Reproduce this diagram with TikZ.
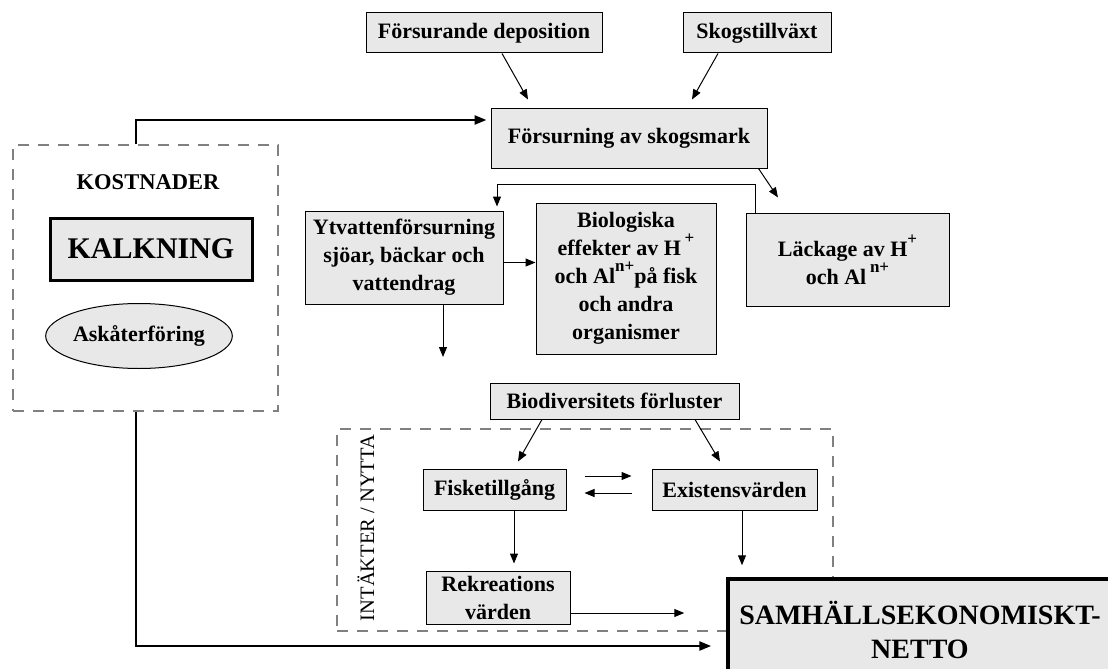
\documentclass[tikz,border=0pt]{standalone}
\usepackage{fontspec}
\setmainfont{Liberation Serif}
\usepackage{xcolor}
\usepackage{tikz}
\usetikzlibrary{positioning,calc,arrows.meta,shapes.geometric}

\definecolor{rutgra}{RGB}{232,232,232}
\definecolor{streckgra}{RGB}{128,128,128}
\newcommand{\upp}[1]{\raisebox{0.55em}{\fontsize{17}{17}\selectfont #1}}

\begin{document}
\begin{tikzpicture}[x=1pt,y=-1pt,
	ruta/.style={draw=black,fill=rutgra,line width=1pt,inner sep=0pt,align=center,font=\bfseries\fontsize{22}{28}\selectfont},
	pil/.style={line width=1pt,-{Triangle[length=10pt,width=8pt]}},
	tjock/.style={line width=2.5pt,-{Triangle[length=12pt,width=9pt]}},
	streck/.style={draw=streckgra,line width=1.2pt,dash pattern=on 11pt off 9pt}]
			\useasboundingbox (0,0) rectangle (1108,669);
			
			% streckade ramar
			\node[streck,minimum width=265pt,minimum height=266pt] (kost) at (145.5,278) {};
			\node[streck,minimum width=496pt,minimum height=202pt] (intak) at (585,530) {};
			
			% kostnader
			\node[font=\bfseries\fontsize{22.5}{26}\selectfont] (kostrubrik) at (148,182) {KOSTNADER};
			\node[ruta,line width=3pt,minimum width=202pt,minimum height=62pt,font=\bfseries\fontsize{30}{34}\selectfont] (kalk) at (151,249) {KALKNING};
			\node[ruta,ellipse,minimum width=168pt,minimum height=65pt] (aska) at (139,336) {Askåterföring};
			
			% orsaker och försurning
			\node[ruta,minimum width=236pt,minimum height=40pt] (dep) at (484,33) {Försurande deposition};
			\node[ruta,minimum width=148pt,minimum height=40pt] (skog) at (757,33) {Skogstillväxt};
			\node[ruta,minimum width=276pt,minimum height=60pt] (fors) at (629,138) {Försurning av skogsmark};
			\node[ruta,minimum width=198pt,minimum height=93pt] (ytv) at (404,257.5) {Ytvattenförsurning\\sjöar, bäckar och\\vattendrag};
			\node[ruta,minimum width=180pt,minimum height=151pt] (bio) at (626,278.5) {Biologiska\\effekter av H\,\upp{+}\\och Al\upp{n+}på fisk\\och andra\\organismer};
			\node[ruta,minimum width=203pt,minimum height=93pt] (lack) at (847.5,259.5) {Läckage av H\upp{+}\\och Al\,\upp{n+}};
			\coordinate (ytvslut) at (443,357);
			
			% intäkter / nytta
			\node[ruta,minimum width=249pt,minimum height=36pt] (biod) at (614.5,401) {Biodiversitets förluster};
			\node[font=\fontsize{20.5}{24}\selectfont,rotate=90] (intakrubrik) at (366,528) {INTÄKTER / NYTTA};
			\node[ruta,minimum width=143pt,minimum height=41pt] (fisk) at (494.5,489.5) {Fisketillgång};
			\node[ruta,minimum width=165pt,minimum height=41pt] (exis) at (734.5,489.5) {Existensvärden};
			\node[ruta,minimum width=144pt,minimum height=53pt] (rekr) at (498,597.5) {Rekreations\\värden};
			\node[ruta,line width=3.5pt,minimum width=384pt,minimum height=102pt,font=\bfseries\fontsize{28}{34}\selectfont] (samh) at (920,630) {SAMHÄLLSEKONOMISKT-\\NETTO};
			
			% pilar
			\draw[pil] ([xshift=18pt]dep.south) -- ([xshift=-101pt,yshift=8pt]fors.north);
			\draw[pil] ([xshift=-39pt]skog.south) -- ([xshift=63pt,yshift=8pt]fors.north);
			\draw[pil] ([xshift=-9pt]fors.south east) -- ([xshift=-69.5pt,yshift=15pt]lack.north);
			\draw[pil] ([xshift=10pt]lack.north west) -- ++(0,-28) -| ([xshift=93pt,yshift=4pt]ytv.north);
			\draw[pil] ([yshift=-5pt]ytv.east) -- ([yshift=-5pt]ytv.east -| bio.west);
			\draw[pil] ([xshift=39pt]ytv.south) -- (ytvslut);
			\draw[tjock,shorten >=4pt] ([xshift=-9.5pt]kost.north) |- ([yshift=18pt]fors.west);
			\draw[tjock,shorten >=15pt] ([xshift=-9.5pt]kost.south) |- ([yshift=-16pt]samh.west);
			\draw[pil] ([xshift=-72.5pt]biod.south) -- ([xshift=23.5pt,yshift=7pt]fisk.north);
			\draw[pil] ([xshift=80.5pt]biod.south) -- ([xshift=-14.5pt,yshift=7pt]exis.north);
			\draw[pil,shorten <=18pt,shorten >=20pt] ([yshift=13.5pt]fisk.east) -- ([yshift=13.5pt]fisk.east -| exis.west);
			\draw[pil,shorten <=20pt,shorten >=18pt] ([yshift=-3.5pt]exis.west) -- ([yshift=-3.5pt]exis.west -| fisk.east);
			\draw[pil,shorten >=7pt] ([xshift=19.5pt]fisk.south) -- ([xshift=19.5pt]fisk.south |- rekr.north);
			\draw[pil,shorten >=12pt] ([xshift=7.5pt]exis.south) -- ([xshift=7.5pt]exis.south |- samh.north);
			\draw[pil,shorten >=42pt] ([yshift=-15.5pt]rekr.east) -- ([yshift=-15.5pt]rekr.east -| samh.west);
		\end{tikzpicture}
\end{document}
